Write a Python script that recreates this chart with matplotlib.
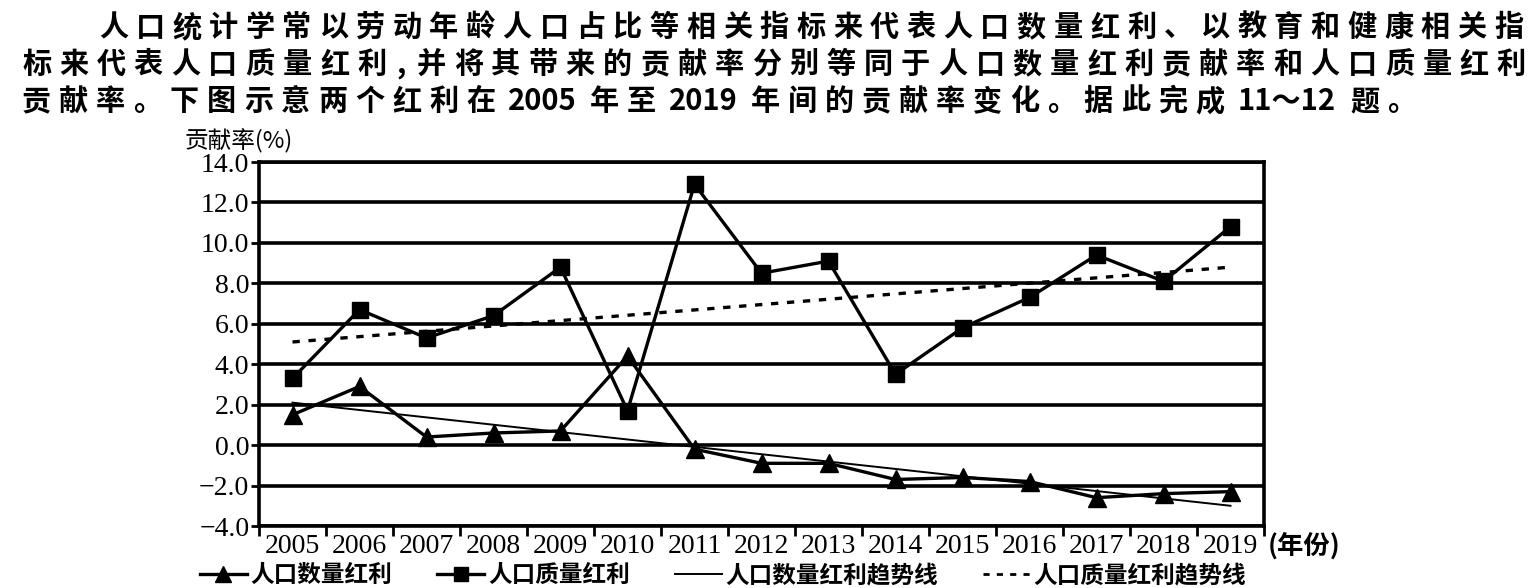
import re
import matplotlib
matplotlib.use('Agg')
import matplotlib.pyplot as plt
import numpy as np
from matplotlib.lines import Line2D

plt.rcParams['font.family'] = ['Liberation Serif', 'Noto Sans CJK SC']
plt.rcParams['axes.unicode_minus'] = True
CJK = ['Noto Sans CJK SC', 'DejaVu Sans']

# 数据
years = ['2005', '2006', '2007', '2008', '2009', '2010', '2011', '2012',
         '2013', '2014', '2015', '2016', '2017', '2018', '2019']
quantity = [1.5, 2.9, 0.4, 0.6, 0.7, 4.4, -0.2, -0.9, -0.9, -1.7, -1.6, -1.8, -2.6, -2.4, -2.3]
quality = [3.3, 6.7, 5.3, 6.4, 8.8, 1.7, 12.9, 8.5, 9.1, 3.5, 5.8, 7.3, 9.4, 8.1, 10.8]
quantity_trend = [2.1, -3.0]   # 2005 与 2019 处的趋势线取值
quality_trend = [5.1, 8.8]
yticks = [-4, -2, 0, 2, 4, 6, 8, 10, 12, 14]
legend_labels = ['人口数量红利', '人口质量红利', '人口数量红利趋势线', '人口质量红利趋势线']

intro = ['人口统计学常以劳动年龄人口占比等相关指标来代表人口数量红利、以教育和健康相关指',
         '标来代表人口质量红利,并将其带来的贡献率分别等同于人口数量红利贡献率和人口质量红利',
         '贡献率。下图示意两个红利在 2005 年至 2019 年间的贡献率变化。据此完成 11～12 题。']

W, H = 1535, 588
fig = plt.figure(figsize=(W / 100, H / 100), dpi=100)


# 逐字排版，模仿试卷里的字距
def draw_line(s, x0, y, x1=None, pitch=37.0):
    toks = re.findall(r'[0-9]+(?:～[0-9]+)?|,|\S', s)
    ws = []
    for t in toks:
        if t[0].isdigit():
            ws.append(0.5 * len(t.replace('～', '')) + 0.35 + (0.85 if '～' in t else 0))
        elif t == ',':
            ws.append(0.6)
        else:
            ws.append(1.0)
    if x1 is not None:
        pitch = (x1 - x0) / sum(ws)
    pos = x0
    for t, w in zip(toks, ws):
        fig.text((pos + w * pitch / 2) / W, 1 - y / H, t, ha='center', va='center',
                 family=CJK, fontsize=21, weight='bold')
        pos += w * pitch


draw_line(intro[0], 95, 27, x1=1527)
draw_line(intro[1], 18, 64, x1=1530)
draw_line(intro[2], 18, 101, pitch=37.0)

ax = fig.add_axes([259 / W, 1 - 526 / H, 1005 / W, 364 / H])
x = np.arange(len(years)) + 0.5

ax.plot(x, quantity, color='black', lw=2.4, marker='^', ms=13, zorder=4)
ax.plot(x, quality, color='black', lw=2.4, marker='s', ms=12, zorder=4)
ax.plot([x[0], x[-1]], quantity_trend, color='black', lw=1.4, zorder=3)
ax.plot([x[0], x[-1]], quality_trend, color='black', lw=2.4, ls=(0, (2.2, 2.6)), zorder=3)

ax.set_xlim(0, len(years))
ax.set_ylim(-4, 14)
ax.set_yticks(yticks)
ax.set_yticklabels(['%.1f' % v if v >= 0 else '\u2212%.1f' % -v for v in yticks])
ax.set_xticks(x)
ax.set_xticklabels(years)
ax.set_xticks(np.arange(len(years) + 1), minor=True)
ax.tick_params(axis='x', which='major', length=0, pad=6, labelsize=20)
ax.tick_params(axis='x', which='minor', length=7, width=2, direction='out')
ax.tick_params(axis='y', length=6, width=2, pad=1, labelsize=20)
ax.yaxis.grid(True, color='black', lw=2.6, zorder=1)
ax.set_axisbelow(True)
for sp in ax.spines.values():
    sp.set_linewidth(2.6)

fig.text(185 / W, 1 - 141 / H, '贡献率(%)', ha='left', va='center', family=CJK, fontsize=17)
fig.text(1268 / W, 1 - 546 / H, '(年份)', ha='left', va='center', family=CJK,
         fontsize=19, weight='bold')

handles = [Line2D([], [], color='black', lw=2.4, marker='^', ms=11),
           Line2D([], [], color='black', lw=2.4, marker='s', ms=10),
           Line2D([], [], color='black', lw=1.4),
           Line2D([], [], color='black', lw=2.0, ls=(0, (2.2, 2.6)))]
fig.legend(handles, legend_labels, loc='center', bbox_to_anchor=(723 / W, 1 - 575 / H),
           ncol=4, frameon=False, prop={'family': CJK, 'size': 17, 'weight': 'bold'},
           handlelength=2.0, handletextpad=0.15, columnspacing=1.9, numpoints=1,
           borderpad=0.1)

fig.savefig('out.png', dpi=100)
